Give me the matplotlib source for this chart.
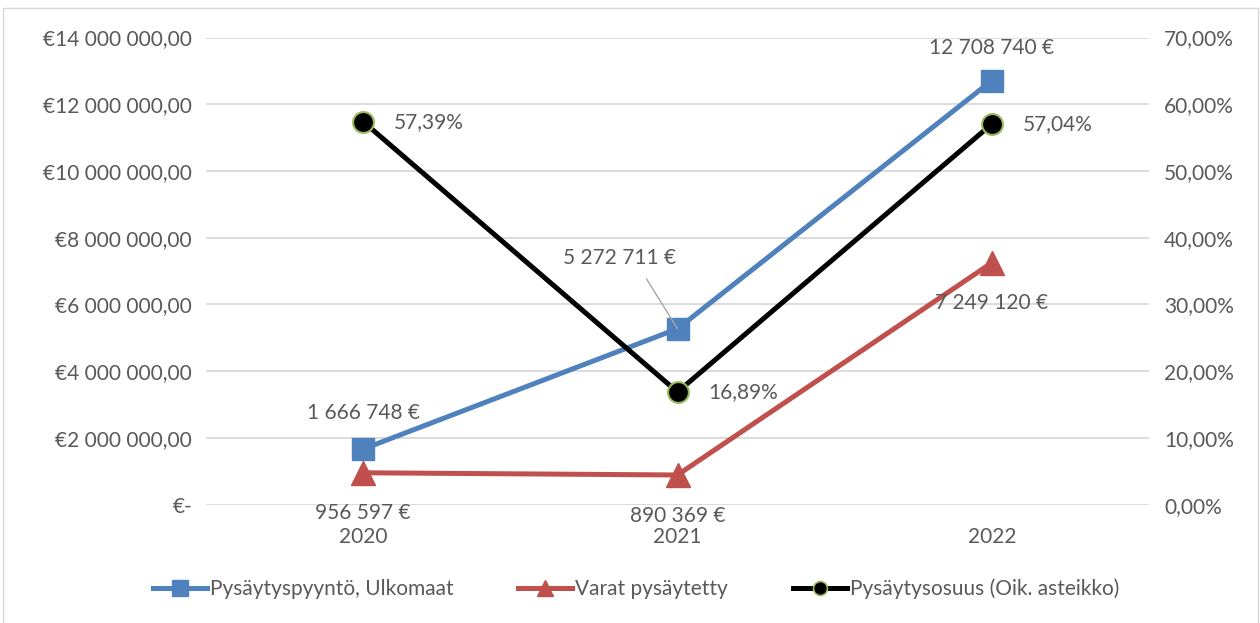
import matplotlib
matplotlib.use("Agg")
import matplotlib.pyplot as plt
from matplotlib.lines import Line2D
from matplotlib.patches import Rectangle

plt.rcParams['font.family'] = ['Lato', 'DejaVu Sans']

years = ["2020", "2021", "2022"]
requests = [1666748, 5272711, 12708740]
frozen = [956597, 890369, 7249120]
share = [57.39, 16.89, 57.04]

left_ticks = [0, 2e6, 4e6, 6e6, 8e6, 10e6, 12e6, 14e6]
left_labels = ["€-", "€2 000 000,00", "€4 000 000,00", "€6 000 000,00",
               "€8 000 000,00", "€10 000 000,00", "€12 000 000,00", "€14 000 000,00"]
right_ticks = [0, 10, 20, 30, 40, 50, 60, 70]
right_labels = ["0,00%", "10,00%", "20,00%", "30,00%", "40,00%", "50,00%", "60,00%", "70,00%"]

TXT = "#595959"
BLUE = "#4F81BD"
RED = "#C0504D"
GREEN = "#9BBB59"
FS = 15


def eur(v):
    return "{:,}".format(v).replace(",", " ") + " €"


def pct(v):
    return "{:.2f}%".format(v).replace(".", ",")


fig = plt.figure(figsize=(12.6, 6.23), dpi=100)
fig.patches.append(Rectangle((3 / 1260, -0.01), 1255 / 1260, 1 - 8 / 623 + 0.01,
                             transform=fig.transFigure, fill=False,
                             edgecolor="#D9D9D9", linewidth=1))
ax = fig.add_axes([206 / 1260, 1 - 504.7 / 623, 943 / 1260, 467.2 / 623])
ax2 = ax.twinx()

x = list(range(len(years)))

ax.set_xlim(-0.5, len(years) - 0.5)
ax.set_ylim(0, 14e6)
ax2.set_ylim(0, 70)

ax.set_yticks(left_ticks)
ax.set_yticklabels(left_labels)
ax2.set_yticks(right_ticks)
ax2.set_yticklabels(right_labels)
ax.set_xticks(x)
ax.set_xticklabels(years)

for a in (ax, ax2):
    for s in a.spines.values():
        s.set_visible(False)
    a.tick_params(length=0, labelsize=FS, colors=TXT)
ax.tick_params(axis='y', pad=10)
ax2.tick_params(axis='y', pad=11)
ax.tick_params(axis='x', pad=16)
ax.grid(axis='y', color="#D9D9D9", linewidth=1.3)
ax.set_axisbelow(True)

l1, = ax.plot(x, requests, color=BLUE, linewidth=3.6, marker='s', markersize=16,
              markerfacecolor=BLUE, markeredgecolor=BLUE, zorder=3)
l2, = ax.plot(x, frozen, color=RED, linewidth=3.6, marker='^', markersize=17,
              markerfacecolor=RED, markeredgecolor=RED, zorder=3)
l3, = ax2.plot(x, share, color="black", linewidth=3.6, marker='o', markersize=15,
               markerfacecolor="black", markeredgecolor=GREEN, markeredgewidth=1.5, zorder=4)

# data labels
ax.annotate(eur(requests[0]), (x[0], requests[0]), xytext=(0, 19), textcoords='offset points',
            ha='center', va='bottom', fontsize=FS, color=TXT)
ax.annotate(eur(requests[1]), (x[1], requests[1]), xytext=(-42, 44), textcoords='offset points',
            ha='center', va='bottom', fontsize=FS, color=TXT,
            arrowprops=dict(arrowstyle='-', color="#A6A6A6", lw=1,
                            shrinkA=7, shrinkB=0, relpos=(0.68, 0)))
ax.annotate(eur(requests[2]), (x[2], requests[2]), xytext=(0, 16), textcoords='offset points',
            ha='center', va='bottom', fontsize=FS, color=TXT)

ax.annotate(eur(frozen[0]), (x[0], frozen[0]), xytext=(0, -22), textcoords='offset points',
            ha='center', va='top', fontsize=FS, color=TXT)
ax.annotate(eur(frozen[1]), (x[1], frozen[1]), xytext=(0, -22), textcoords='offset points',
            ha='center', va='top', fontsize=FS, color=TXT)
ax.annotate(eur(frozen[2]), (x[2], frozen[2]), xytext=(0, -22), textcoords='offset points',
            ha='center', va='top', fontsize=FS, color=TXT)

for xi, s in zip(x, share):
    ax2.annotate(pct(s), (xi, s), xytext=(22, 0), textcoords='offset points',
                 ha='left', va='center', fontsize=FS, color=TXT)

handles = [
    Line2D([], [], color=BLUE, linewidth=3.6, marker='s', markersize=11,
           markerfacecolor=BLUE, markeredgecolor=BLUE),
    Line2D([], [], color=RED, linewidth=3.6, marker='^', markersize=12,
           markerfacecolor=RED, markeredgecolor=RED),
    Line2D([], [], color="black", linewidth=3.6, marker='o', markersize=10,
           markerfacecolor="black", markeredgecolor=GREEN, markeredgewidth=1.2),
]
names = ["Pysäytyspyyntö, Ulkomaat", "Varat pysäytetty", "Pysäytysosuus (Oik. asteikko)"]
leg = fig.legend(handles, names, loc='center', bbox_to_anchor=(636 / 1260, 1 - 589 / 623),
                 ncol=3, frameon=False, fontsize=FS, handlelength=2.6, handletextpad=0.15,
                 columnspacing=3.1)
for t in leg.get_texts():
    t.set_color(TXT)

fig.savefig("out.png", dpi=100)
